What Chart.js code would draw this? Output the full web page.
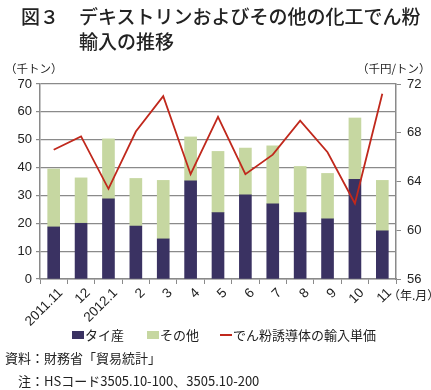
<!DOCTYPE html>
<html lang="ja">
<head>
<meta charset="UTF-8" />
<title>図3</title>
<style>
  body { margin: 0; width: 431px; height: 390px; background: #fff; position: relative; overflow: hidden;
         font-family: "Noto Sans CJK JP", "Liberation Sans", sans-serif; color: #222; }
  #wrap { position: absolute; left: 0; top: 0; width: 431px; height: 340px; }
  .t { position: absolute; white-space: nowrap; }
  .ttl { font-size: 19px; line-height: 24px; font-weight: 500; }
  .unit { font-size: 11.5px; top: 60px; }
  .leg { top: 325px; font-size: 13px; display: flex; align-items: center; }
  .sw { display: inline-block; width: 12px; height: 8px; margin-right: 1px; }
  .ln { display: inline-block; width: 12px; height: 2px; background: #c0281c; margin-right: 1px; }
  .src { font-size: 13px; left: 5px; }
</style>
</head>
<body>
<div id="wrap"><canvas id="chart"></canvas></div>

<div class="t ttl" style="left:21px; top:4px;">図３</div>
<div class="t ttl" style="left:79px; top:4px;">デキストリンおよびその他の化工でん粉</div>
<div class="t ttl" style="left:79px; top:29px;">輸入の推移</div>
<div class="t unit" style="left:5px;">（千トン）</div>
<div class="t unit" style="left:357px;">（千円/トン）</div>
<div class="t" style="left:388px; top:286px; font-size:12px;">（年.月）</div>

<div class="t leg" style="left:72px;"><span class="sw" style="background:#3a3262"></span>タイ産</div>
<div class="t leg" style="left:147px;"><span class="sw" style="background:#c6d7a1"></span>その他</div>
<div class="t leg" style="left:220px;"><span class="ln"></span>でん粉誘導体の輸入単価</div>

<div class="t src" style="top:348px;">資料：財務省「貿易統計」</div>
<div class="t src" style="top:371px; left:18px;">注：HSコード3505.10-100、3505.10-200</div>

<script src="https://cdn.jsdelivr.net/npm/chart.js"></script>
<script>
    const months = ['2011.11', '12', '2012.1', '2', '3', '4', '5', '6', '7', '8', '9', '10', '11'];
    const thai   = [18.7, 20.0, 28.8, 19.0, 14.4, 35.2, 23.8, 30.2, 27.0, 23.8, 21.6, 35.8, 17.3];
    const other  = [20.8, 16.3, 21.5, 17.1, 21.0, 15.8, 22.0, 16.8, 20.8, 16.6, 16.3, 22.0, 18.1];
    const price  = [66.6, 67.7, 63.4, 68.1, 71.0, 64.6, 69.3, 64.6, 66.2, 69.0, 66.4, 62.2, 71.2];

    const gridColor = '#8a8a8a';
    const tickFont = { family: 'Liberation Sans', size: 13 };

    const ctx = document.getElementById('chart').getContext('2d');
    new Chart(ctx, {
        type: 'bar',
        data: {
            labels: months,
            datasets: [
                {
                    type: 'line',
                    label: 'でん粉誘導体の輸入単価',
                    data: price,
                    yAxisID: 'y2',
                    borderColor: '#c0281c',
                    borderWidth: 1.8,
                    pointRadius: 0,
                    tension: 0,
                    order: 0
                },
                {
                    label: 'タイ産',
                    data: thai,
                    backgroundColor: '#3a3262',
                    stack: 's',
                    barThickness: 12,
                    order: 1
                },
                {
                    label: 'その他',
                    data: other,
                    backgroundColor: '#c6d7a1',
                    stack: 's',
                    barThickness: 12,
                    order: 1
                }
            ]
        },
        options: {
            responsive: true,
            maintainAspectRatio: false,
            animation: false,
            layout: { padding: { top: 84, left: 0, right: 0, bottom: 0 } },
            plugins: { legend: { display: false }, tooltip: { enabled: false } },
            scales: {
                x: {
                    stacked: true,
                    grid: { drawOnChartArea: false, color: gridColor, tickLength: 5, offset: true },
                    border: { color: gridColor, width: 1.5 },
                    ticks: { color: '#222', font: { family: 'Liberation Sans', size: 13.5 }, maxRotation: 45, minRotation: 45,
                             autoSkip: false, padding: 1, labelOffset: 7 },
                    afterFit: s => { s.height = 61; }
                },
                y: {
                    stacked: true,
                    min: 0, max: 70,
                    ticks: { stepSize: 10, color: '#222', font: tickFont, padding: 4 },
                    grid: { color: gridColor, lineWidth: 1.2, tickLength: 4 },
                    border: { color: gridColor, width: 1.5 },
                    afterFit: s => { s.width = 40; }
                },
                y2: {
                    position: 'right',
                    min: 56, max: 72,
                    ticks: { stepSize: 4, color: '#222', font: tickFont, padding: 6 },
                    grid: { drawOnChartArea: false, color: gridColor, tickLength: 5 },
                    border: { color: gridColor, width: 1.5 },
                    afterFit: s => { s.width = 35; }
                }
            }
        }
    });
</script>
</body>
</html>
